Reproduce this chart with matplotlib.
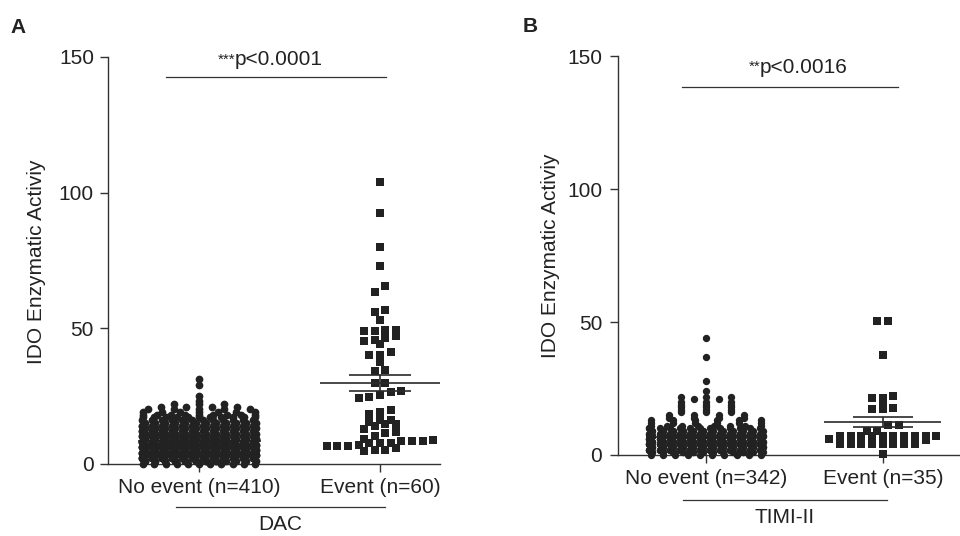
import numpy as np
import matplotlib
matplotlib.use("Agg")
import matplotlib.pyplot as plt
from matplotlib.transforms import blended_transform_factory

plt.rcParams['font.family'] = ['Liberation Sans', 'DejaVu Sans']

# ---------------- data ----------------
categories_a = ["No event (n=410)", "Event (n=60)"]
categories_b = ["No event (n=342)", "Event (n=35)"]
group_a = "DAC"
group_b = "TIMI-II"
sig_a = ("***", "p<0.0001")
sig_b = ("**", "p<0.0016")
ylabel = "IDO Enzymatic Activiy"
yticks = [0, 50, 100, 150]

# DAC, no event: value levels and number of patients at each level
noevent_a_levels = [0, 1, 2, 3, 4, 5, 6, 7, 8, 9, 10, 11, 12, 13, 14, 15, 16, 17,
                    18, 19, 20, 21, 22, 23, 25, 29, 31]
noevent_a_counts = [11, 20, 27, 30, 32, 32, 30, 28, 27, 24, 21, 18, 16, 14, 13, 12,
                    12, 11, 9, 7, 5, 4, 3, 1, 1, 1, 1]

# DAC, event
event_a = [103.7, 92.4, 79.9, 72.7, 65.4, 63.3, 56.8, 56.0, 53.1, 48.8, 48.8, 49.4,
           49.4, 46.4, 44.0, 45.1, 45.7, 46.9, 40.2, 40.2, 41.2, 37.5, 34.0, 34.6,
           29.7, 29.7, 26.7, 25.1, 24.2, 24.6, 26.3, 19.0, 18.3, 19.7, 16.0, 14.7,
           13.8, 14.4, 15.4, 16.0, 11.7, 12.9, 11.3, 9.1, 8.2, 6.4, 8.2, 6.4, 8.2,
           6.4, 8.8, 4.5, 7.7, 4.8, 7.7, 4.8, 7.6, 10.2, 5.6, 7.0]

# TIMI-II, no event
noevent_b_levels = [0, 1, 2, 3, 4, 5, 6, 7, 8, 9, 10, 11, 12, 13, 14, 15, 16, 17,
                    18, 19, 20, 21, 22, 24, 28, 37, 44]
noevent_b_counts = [10, 22, 31, 35, 37, 35, 32, 29, 23, 18, 13, 8, 6, 6, 4, 4, 3, 3,
                    3, 3, 3, 2, 3, 1, 1, 1, 1]

# TIMI-II, event
event_b = [50.5, 50.5, 37.6, 21.4, 20.4, 22.1, 21.4, 17.3, 17.3, 17.8, 11.3, 9.1,
           11.3, 9.1, 7.3, 7.3, 7.3, 7.3, 7.3, 7.3, 7.3, 7.3, 7.3, 7.3, 4.1, 4.1,
           4.1, 4.1, 4.1, 4.1, 4.1, 4.1, 6.0, 5.5, 0.4]

INK = '#222222'


def swarm_offsets(values, binw, sp, maxcols, spread=1.0, stagger=0.0):
    """Row-wise scatter layout: points in one value bin are placed side by side."""
    values = np.asarray(values, dtype=float)
    bins = np.floor(values / binw + 1e-9).astype(int)
    x = np.zeros(len(values))
    for b in np.unique(bins):
        idx = np.where(bins == b)[0]
        idx = idx[np.argsort(values[idx], kind='stable')]
        n = len(idx)
        if n >= maxcols:
            cols = (np.arange(n) % maxcols) - (maxcols - 1) / 2
            shift = stagger if (b % 2) else -stagger
            offs = (cols + shift) * sp
        elif n == 1:
            offs = np.zeros(1)
        else:
            step = min(spread, (maxcols - 1) / (n - 1))
            offs = (np.arange(n) - (n - 1) / 2) * step * sp
        x[idx] = offs
    return x


def mean_sem(ax, pos, vals, mhalf=0.33, shalf=0.17, z=4):
    vals = np.asarray(vals, dtype=float)
    m = vals.mean()
    se = vals.std(ddof=1) / np.sqrt(len(vals))
    kw = dict(color='#2a2a2a', lw=1.2, zorder=z, solid_capstyle='butt', clip_on=False)
    ax.plot([pos - mhalf, pos + mhalf], [m, m], **kw)
    ax.plot([pos - shalf, pos + shalf], [m + se, m + se], **kw)
    ax.plot([pos - shalf, pos + shalf], [m - se, m - se], **kw)
    ax.plot([pos, pos], [m - se, m + se], **kw)


def style_axis(ax, xlim, cats, ypad):
    ax.set_xlim(*xlim)
    ax.set_ylim(0, 150)
    ax.set_yticks(yticks)
    ax.set_xticks([0, 1])
    ax.set_xticklabels(cats)
    for s in ['top', 'right']:
        ax.spines[s].set_visible(False)
    for s in ['left', 'bottom']:
        ax.spines[s].set_linewidth(1.0)
        ax.spines[s].set_color('#333333')
    ax.tick_params(axis='both', direction='out', length=5.8, width=1.0,
                   color='#333333', labelsize=15, labelcolor=INK)
    ax.tick_params(axis='x', pad=4.5)
    ax.tick_params(axis='y', pad=ypad)
    ax.patch.set_visible(False)


fig = plt.figure(figsize=(9.6, 5.36), dpi=100)
axA = fig.add_axes([108 / 960, (536 - 463.5) / 536, (440 - 108) / 960, 406.5 / 536])
axB = fig.add_axes([618 / 960, (536 - 455) / 536, (960 - 618) / 960, 398.6 / 536])

# ---------------- panel A ----------------
na_vals = np.repeat(noevent_a_levels, noevent_a_counts).astype(float)
na_x = 0 + swarm_offsets(na_vals, 1.0, 0.056, 12, spread=2.5, stagger=0.15)
mean_sem(axA, 0, na_vals, mhalf=0.34, z=2)
axA.scatter(na_x, na_vals, s=31, marker='o', color=INK, linewidths=0, zorder=3, clip_on=False)

ea = np.array(event_a)
ea_x = 1 + swarm_offsets(ea, 3.0, 0.059, 12)
axA.scatter(ea_x, ea, s=33, marker='s', color=INK, linewidths=0, zorder=3, clip_on=False)
mean_sem(axA, 1, ea, mhalf=0.33, z=4)

style_axis(axA, (-0.503, 1.331), categories_a, 4.3)

# significance
axA.plot([-0.182, 1.033], [142.5, 142.5], color='#333333', lw=0.9, clip_on=False)
axA.text(0.199, 146.9, sig_a[1], ha='left', va='baseline', fontsize=15, color=INK)
axA.text(0.199, 151.6, sig_a[0], ha='right', va='top', fontsize=11, color=INK)

# group label
trA = blended_transform_factory(axA.transData, axA.transAxes)
axA.plot([-0.127, 1.028], [-0.107, -0.107], transform=trA, color='#333333', lw=0.9, clip_on=False)
axA.text(0.448, -0.151, group_a, transform=trA, ha='center', va='center', fontsize=15, color=INK)

# ---------------- panel B ----------------
nb_vals = np.repeat(noevent_b_levels, noevent_b_counts).astype(float)
nb_x = 0 + swarm_offsets(nb_vals, 1.0, 0.0566, 12, spread=2.5, stagger=0.15)
mean_sem(axB, 0, nb_vals, mhalf=0.34, z=2)
axB.scatter(nb_x, nb_vals, s=28, marker='o', color=INK, linewidths=0, zorder=3, clip_on=False)

eb = np.array(event_b)
eb_x = 1 + swarm_offsets(eb, 3.0, 0.0605, 12)
axB.scatter(eb_x, eb, s=33, marker='s', color=INK, linewidths=0, zorder=3, clip_on=False)
mean_sem(axB, 1, eb, mhalf=0.33, z=4)

style_axis(axB, (-0.498, 1.437), categories_b, 5.6)

axB.plot([-0.136, 1.087], [138.5, 138.5], color='#333333', lw=0.9, clip_on=False)
axB.text(0.306, 143.8, sig_b[1], ha='left', va='baseline', fontsize=15, color=INK)
axB.text(0.306, 148.6, sig_b[0], ha='right', va='top', fontsize=11, color=INK)

trB = blended_transform_factory(axB.transData, axB.transAxes)
axB.plot([-0.13, 1.024], [-0.113, -0.113], transform=trB, color='#333333', lw=0.9, clip_on=False)
axB.text(0.447, -0.158, group_b, transform=trB, ha='center', va='center', fontsize=15, color=INK)

# ---------------- labels ----------------
fig.text(37 / 960, 1 - 262 / 536, ylabel, rotation=90, ha='center', va='center', fontsize=15, color=INK)
fig.text(551 / 960, 1 - 256 / 536, ylabel, rotation=90, ha='center', va='center', fontsize=15, color=INK)
fig.text(10 / 960, 1 - 33 / 536, "A", ha='left', va='baseline', fontsize=15, fontweight='bold', color=INK)
fig.text(523 / 960, 1 - 32 / 536, "B", ha='left', va='baseline', fontsize=15, fontweight='bold', color=INK)

fig.savefig("out.png", dpi=100)
